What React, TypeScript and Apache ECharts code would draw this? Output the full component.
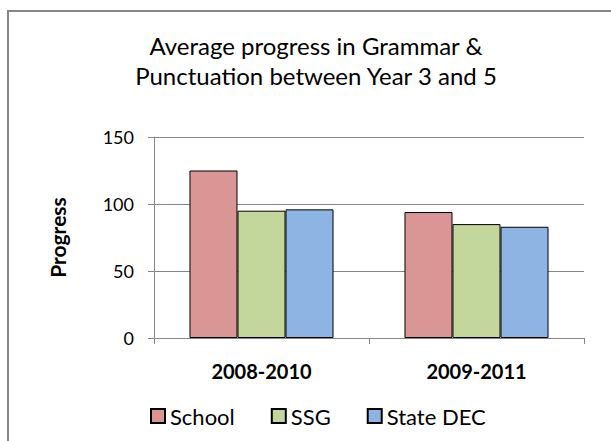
import React, { useEffect, useRef } from "react";
import * as echarts from "echarts";

const categories = ["2008-2010", "2009-2011"];
const seriesNames = ["School", "SSG", "State DEC"];
const schoolValues = [125, 94];
const ssgValues = [95, 85];
const stateDecValues = [96, 83];
const yTicks = { min: 0, max: 150, interval: 50 };
const titleLines = ["Average progress in Grammar &", "Punctuation between Year 3 and 5"];

const FONT = "Lato, 'Liberation Sans', sans-serif";

export default function App() {
  const ref = useRef<HTMLDivElement>(null);
  useEffect(() => {
    if (!ref.current) return;
    const chart = echarts.init(ref.current, null, { renderer: "svg" });
    const colors = ["#D99694", "#C3D69B", "#8EB4E3"];
    const values = [schoolValues, ssgValues, stateDecValues];
    chart.setOption({
      animation: false,
      backgroundColor: "#ffffff",
      textStyle: { fontFamily: FONT },
      title: {
        text: titleLines.join("\n"),
        left: 311,
        top: 25,
        textAlign: "center",
        textStyle: {
          fontFamily: FONT,
          fontSize: 24,
          fontWeight: "normal",
          color: "#000",
          lineHeight: 30,
        },
      },
      graphic: [
        {
          type: "rect",
          shape: { x: 8, y: 11, width: 800, height: 600 },
          style: { fill: "none", stroke: "#868686", lineWidth: 2 },
          silent: true,
        },
      ],
      legend: {
        left: 145,
        top: 400,
        itemWidth: 14,
        itemHeight: 14,
        itemGap: 36,
        icon: "rect",
        textStyle: { fontFamily: FONT, fontSize: 22, color: "#000" },
        data: seriesNames,
      },
      grid: { left: 154, right: 27, top: 137, bottom: 103, containLabel: false },
      xAxis: {
        type: "category",
        data: categories,
        boundaryGap: true,
        axisLine: { show: true, lineStyle: { color: "#868686", width: 1 } },
        axisTick: { show: true, length: 6, lineStyle: { color: "#868686" } },
        axisLabel: {
          fontFamily: FONT,
          fontSize: 20,
          fontWeight: "bold",
          color: "#000",
          margin: 23,
        },
      },
      yAxis: {
        type: "value",
        min: yTicks.min,
        max: yTicks.max,
        interval: yTicks.interval,
        name: "Progress",
        nameLocation: "middle",
        nameRotate: 90,
        nameGap: 86,
        nameTextStyle: { fontFamily: FONT, fontSize: 21, fontWeight: "bold", color: "#000" },
        axisLine: { show: true, lineStyle: { color: "#868686", width: 1 } },
        axisTick: { show: true, inside: false, length: 6, lineStyle: { color: "#868686" } },
        splitLine: { show: true, lineStyle: { color: "#868686", width: 1 } },
        axisLabel: { fontFamily: FONT, fontSize: 18, color: "#000", margin: 20 },
      },
      series: seriesNames.map((name, i) => ({
        name,
        type: "bar",
        data: values[i],
        barGap: "0%",
        barCategoryGap: "33%",
        itemStyle: { color: colors[i], borderColor: "#000", borderWidth: 1 },
      })),
    });
    return () => chart.dispose();
  }, []);
  return (
    <div
      ref={ref}
      style={{ position: "fixed", left: 0, top: 0, width: 611, height: 441, background: "#fff" }}
    />
  );
}
